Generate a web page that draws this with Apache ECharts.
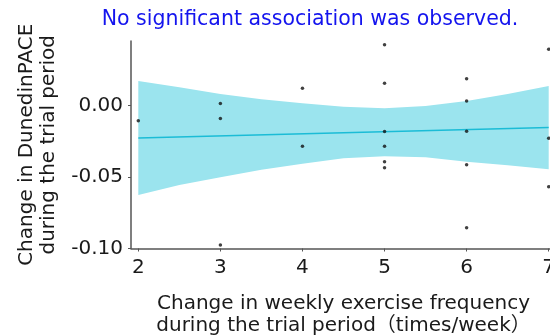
<!DOCTYPE html>
<html>
<head>
<meta charset="utf-8">
<script src="https://cdn.jsdelivr.net/npm/echarts@6/dist/echarts.min.js"></script>
<style>
  html, body { margin: 0; padding: 0; background: #fff; }
  #chart { width: 550px; height: 335px; }
</style>
</head>
<body>
<div id="chart"></div>
<script>
// Individual observations: weekly exercise change vs. DunedinPACE change
const obsX = [2, 3, 3, 3, 4, 4, 5, 5, 5, 5, 5, 5, 6, 6, 6, 6, 6, 7, 7, 7];
const obsY = [-0.0108, 0.0013, -0.0092, -0.0976, 0.0120, -0.0285,
              0.0423, 0.0155, -0.0183, -0.0285, -0.0393, -0.0435,
              0.0187, 0.0031, -0.0180, -0.0414, -0.0855,
              0.0393, -0.0229, -0.0568];

// Fitted regression line end points
const fitX = [2, 7];
const fitY = [-0.0227, -0.0155];

// 95% confidence band of the fit
const bandX = [2, 2.5, 3, 3.5, 4, 4.5, 5, 5.5, 6, 6.5, 7];
const bandUpper = [0.0171, 0.0127, 0.0080, 0.0043, 0.0015, -0.0010, -0.0020, -0.0005, 0.0030, 0.0080, 0.0136];
const bandLower = [-0.0626, -0.0556, -0.0502, -0.0450, -0.0407, -0.0370, -0.0355, -0.0362, -0.0393, -0.0418, -0.0446];

// Tick positions
const xTicks = [2, 3, 4, 5, 6, 7];
const yTicks = [-0.10, -0.05, 0.00];

const FONT = "'DejaVu Sans', 'Noto Sans CJK JP', sans-serif";

const chart = echarts.init(document.getElementById('chart'), null, { renderer: 'canvas' });

const bandData = bandX.map((x, i) => [x, bandUpper[i], bandLower[i]]);

chart.setOption({
  animation: false,
  backgroundColor: '#ffffff',
  title: {
    text: 'No significant association was observed.',
    left: 305,
    top: 4,
    textAlign: 'center',
    textStyle: { color: '#1414ee', fontFamily: FONT, fontSize: 20.5, fontWeight: 'normal' }
  },
  grid: { left: 131, top: 41, right: -6, bottom: 86.5, outerBoundsMode: 'none' },
  xAxis: {
    type: 'value',
    min: 1.911,
    max: 7.089,
    name: 'Change in weekly exercise frequency\nduring the trial period（times/week）',
    nameLocation: 'middle',
    nameGap: 44,
    nameTextStyle: { color: '#1a1a1a', fontFamily: FONT, fontSize: 20, lineHeight: 22, align: 'center' },
    axisLine: { onZero: false, lineStyle: { color: '#555', width: 1.5 } },
    axisTick: { show: true, length: 3, customValues: xTicks, lineStyle: { color: '#555' } },
    axisLabel: { customValues: xTicks, color: '#1a1a1a', fontFamily: FONT, fontSize: 20, margin: 9 },
    splitLine: { show: false }
  },
  yAxis: {
    type: 'value',
    min: -0.10,
    max: 0.045,
    name: 'Change in DunedinPACE\nduring the trial period',
    nameLocation: 'middle',
    nameRotate: 90,
    nameGap: 71,
    nameTextStyle: { color: '#1a1a1a', fontFamily: FONT, fontSize: 20, lineHeight: 22, align: 'center' },
    axisLine: { show: true, onZero: false, lineStyle: { color: '#555', width: 1.5 } },
    axisTick: { show: true, length: 3, customValues: yTicks, lineStyle: { color: '#555' } },
    axisLabel: {
      customValues: yTicks,
      color: '#1a1a1a', fontFamily: FONT, fontSize: 20, margin: 8,
      formatter: v => v.toFixed(2)
    },
    splitLine: { show: false }
  },
  series: [
    {
      // confidence band drawn as a polygon through the axis scales
      type: 'custom',
      data: bandData,
      encode: { x: 0, y: [1, 2] },
      z: 1,
      renderItem: function (params, api) {
        if (params.dataIndex !== 0) return;
        const upperPts = bandData.map(d => api.coord([d[0], d[1]]));
        const lowerPts = bandData.slice().reverse().map(d => api.coord([d[0], d[2]]));
        return {
          type: 'polygon',
          shape: { points: upperPts.concat(lowerPts) },
          style: { fill: '#9be4ee', stroke: null }
        };
      }
    },
    {
      type: 'line',
      data: fitX.map((x, i) => [x, fitY[i]]),
      showSymbol: false,
      z: 2,
      lineStyle: { color: '#1bbcd6', width: 1.5 }
    },
    {
      type: 'scatter',
      data: obsX.map((x, i) => [x, obsY[i]]),
      symbolSize: 3.5,
      z: 3,
      itemStyle: { color: '#111' }
    }
  ]
});
</script>
</body>
</html>
